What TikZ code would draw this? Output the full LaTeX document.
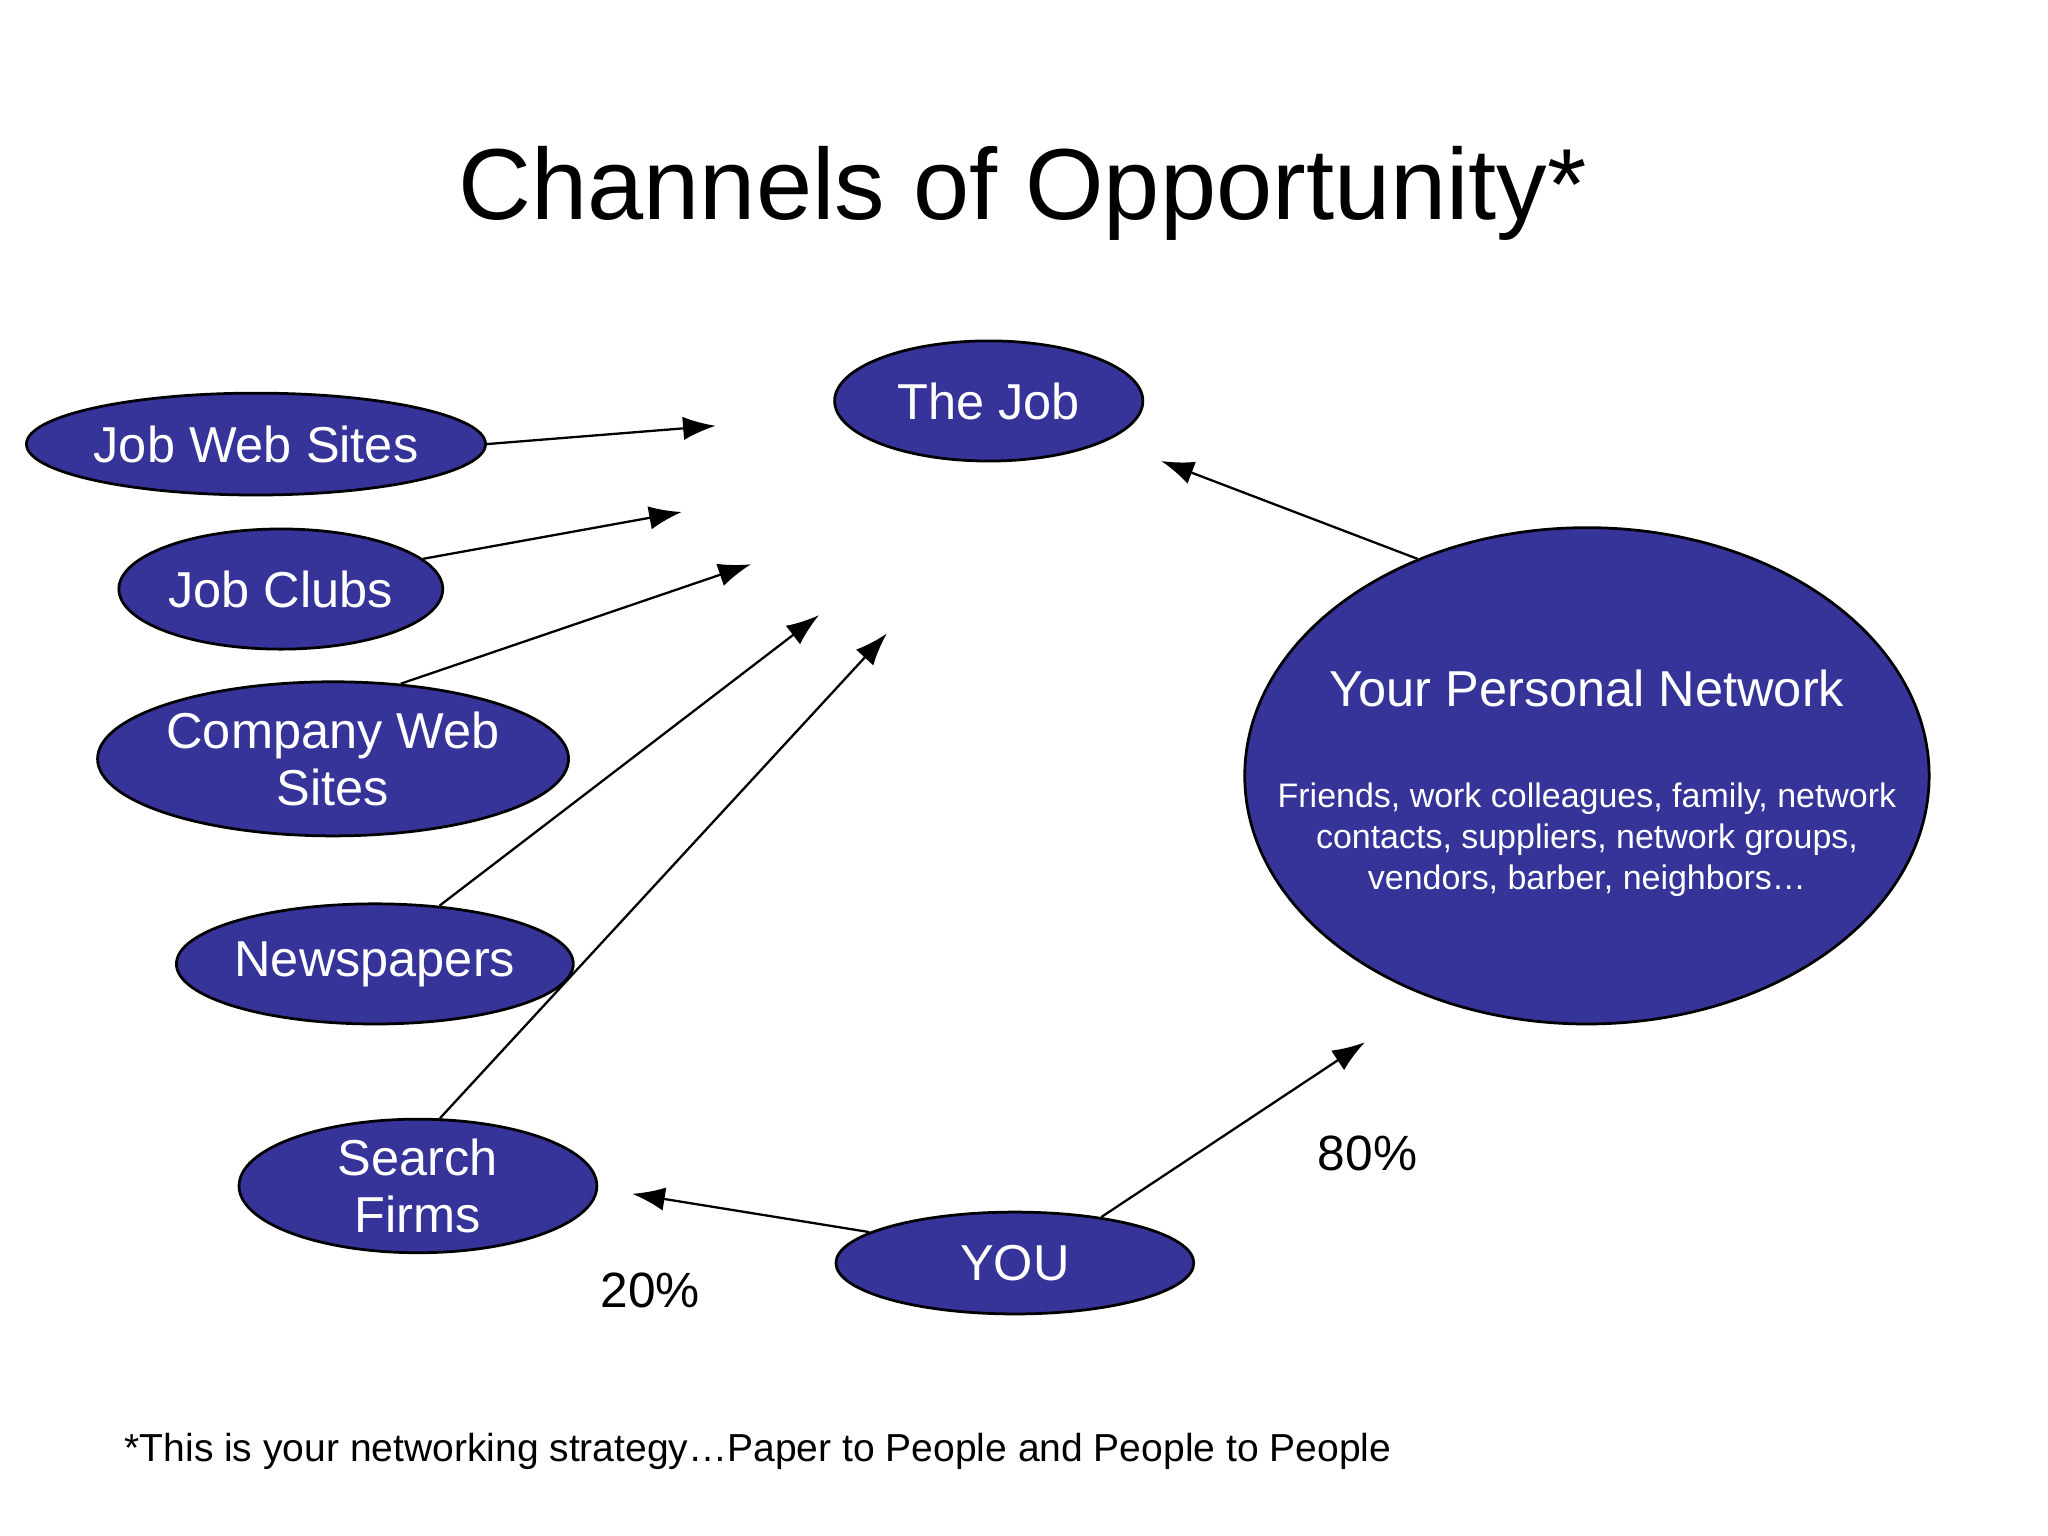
\documentclass[tikz,border=0pt]{standalone}
\usepackage{fontspec}
\setmainfont{Liberation Sans}
\usetikzlibrary{shapes.geometric,arrows.meta}
\definecolor{ovalblue}{RGB}{54,51,153}
\tikzset{
 oval/.style={ellipse,draw=black,line width=0.6pt,fill=ovalblue,text=white,inner sep=0pt,align=center,font=\fontsize{11}{12.5}\selectfont},
 arr/.style={-{Latex[length=2.5mm,width=1.8mm]},line width=0.5pt}
}
\begin{document}
\begin{tikzpicture}[x=1cm,y=1cm]
\useasboundingbox (0,0) rectangle (15.68,-11.76);
\node[font=\fontsize{22}{26}\selectfont] (title) at (7.83,-1.48) {Channels of Opportunity*};
\node[oval,minimum width=2.36cm,minimum height=0.92cm] (job) at (7.57,-3.07) {The Job};
\node[oval,minimum width=2.88cm,minimum height=0.78cm] (jws) at (1.96,-3.40) {Job Web Sites};
\node[oval,minimum width=2.48cm,minimum height=0.92cm] (jc) at (2.15,-4.51) {Job Clubs};
\node[oval,minimum width=3.00cm,minimum height=1.18cm] (cws) at (2.55,-5.81) {Company Web\\Sites};
\node[oval,minimum width=2.62cm,minimum height=0.92cm] (np) at (2.87,-7.38) {Newspapers};
\node[oval,minimum width=2.74cm,minimum height=0.92cm] (sf) at (3.20,-9.08) {Search\\Firms};
\node[oval,minimum width=2.74cm,minimum height=0.78cm] (you) at (7.77,-9.67) {YOU};
\node[oval,minimum width=5.24cm,minimum height=3.80cm] (pn) at (12.15,-5.94) {};
\node[text=white,font=\fontsize{11}{12.5}\selectfont] (pnt) at (12.15,-5.27) {Your Personal Network};
\node[text=white,align=center,font=\fontsize{7.4}{9}\selectfont] (pnd) at (12.15,-6.43) {Friends, work colleagues, family, network\\contacts, suppliers, network groups,\\vendors, barber, neighbors…};
\coordinate (e1) at (5.48,-3.26);
\coordinate (e2) at (5.22,-3.92);
\coordinate (e3) at (5.75,-4.32);
\coordinate (e4) at (6.27,-4.71);
\coordinate (e5) at (6.79,-4.85);
\coordinate (e6) at (4.84,-9.14);
\coordinate (e7) at (10.45,-7.98);
\coordinate (e8) at (8.89,-3.53);
\draw[arr] (jws.east) -- (e1);
\draw[arr] (jc.12) -- (e2);
\draw[arr] (cws.48) -- (e3);
\draw[arr] (np.42) -- (e4);
\draw[arr] (sf.72) -- (e5);
\draw[arr] (you.168) -- (e6);
\draw[arr] (you.28) -- (e7);
\draw[arr] (pn.128) -- (e8);
\node[font=\fontsize{10.8}{12}\selectfont] (p80) at (10.47,-8.83) {80\%};
\node[font=\fontsize{10.8}{12}\selectfont] (p20) at (4.98,-9.88) {20\%};
\node[anchor=west,font=\fontsize{8.5}{10}\selectfont] (foot) at (0.83,-11.11) {*This is your networking strategy…Paper to People and People to People};
\end{tikzpicture}
\end{document}
